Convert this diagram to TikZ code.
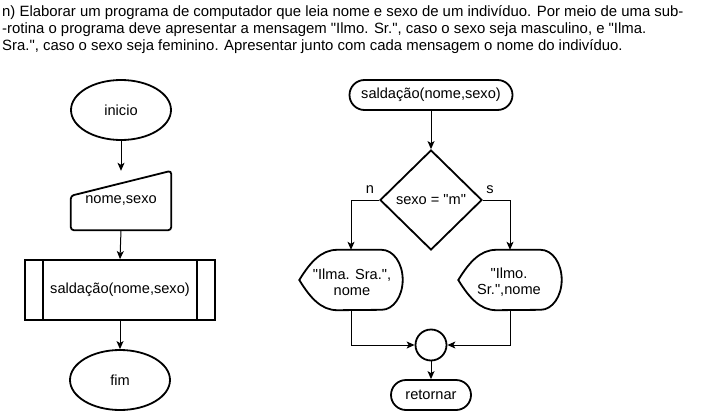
\documentclass[tikz,border=0pt]{standalone}
\usepackage{fontspec}
\setmainfont{Liberation Sans}[Ligatures=TeXOff]
\usetikzlibrary{arrows.meta,shapes.geometric,calc}
\begin{document}
\begin{tikzpicture}[x=1pt,y=-1pt,
  font=\fontsize{14.6}{16}\selectfont,
  shp/.style={draw=black, line width=1.8pt},
  conn/.style={draw=black, line width=1pt, -{Stealth[length=8pt,width=7pt,inset=2pt]}},
  plain/.style={draw=black, line width=1pt},
  ell/.style={ellipse, shp, minimum width=100pt, minimum height=60pt, inner sep=0pt},
  term/.style={shp, rounded corners=15pt, minimum height=30pt, inner sep=2pt},
  txt/.style={inner sep=0pt, align=center}
]
\useasboundingbox (0,0) rectangle (701,412);

% title
\node[anchor=north west, align=left, inner sep=0pt, font=\fontsize{14.9}{17}\selectfont] (title) at (2,5)
 {n) Elaborar um programa de computador que leia nome e sexo de um indivíduo. Por meio de uma sub-\\
  -rotina o programa deve apresentar a mensagem "Ilmo. Sr.", caso o sexo seja masculino, e "Ilma.\\
  Sra.", caso o sexo seja feminino. Apresentar junto com cada mensagem o nome do indivíduo.};

% left flowchart
\node[ell] (ini) at (121,110) {inicio};
\node[txt, minimum width=100pt, minimum height=59pt] (inp) at (121,200.5) {nome,sexo};
\draw[shp, rounded corners=3pt] (inp.south west) -- ($(inp.north west)+(0,25)$) -- (inp.north east) -- (inp.south east) -- cycle;
\node[shp, minimum width=190pt, minimum height=60pt, inner sep=0pt] (sub) at (120,290) {saldação(nome,sexo)};
\draw[shp] ($(sub.north west)+(19,0)$) -- ($(sub.south west)+(19,0)$);
\draw[shp] ($(sub.north east)+(-19,0)$) -- ($(sub.south east)+(-19,0)$);
\node[ell] (fim) at (120,380) {fim};

\draw[conn] (ini.south) -- (inp.north);
\draw[conn] (inp.south) -- (sub.north);
\draw[conn] (sub.south) -- (fim.north);

% right flowchart
\node[term, minimum width=163pt] (t1) at (431,95) {saldação(nome,sexo)};
\node[diamond, shp, minimum width=102pt, minimum height=100pt, inner sep=0pt] (dec) at (431,200) {};
\node[txt] (dect) at (dec.center) {sexo = "m"};

\node[txt, minimum width=103pt, minimum height=60pt] (d1) at (351,280) {};
\node[txt] (d1t) at (352,282) {"Ilma. Sra.",\\nome};
\node[txt, minimum width=103pt, minimum height=60pt] (d2) at (510,280) {};
\node[txt] (d2t) at (509,282) {"Ilmo.\\Sr.",nome};
\foreach \d in {d1,d2}{
  \draw[shp] (\d.west) .. controls ($(\d.west)+(11,-18)$) and ($(\d.north west)+(22,0)$) .. ($(\d.north west)+(38,0)$)
    -- ($(\d.north east)+(-21,0)$) arc[start angle=90, end angle=-90, x radius=21pt, y radius=30pt]
    -- ($(\d.south west)+(38,0)$) .. controls ($(\d.south west)+(22,0)$) and ($(\d.west)+(11,18)$) .. (\d.west) -- cycle;
}

\node[circle, shp, minimum size=31pt, inner sep=0pt] (circ) at (431,345) {};
\node[term, minimum width=80pt] (ret) at (431,395) {retornar};

\node[inner sep=0pt] (ln) at (370,190) {n};
\node[inner sep=0pt] (ls) at (490,190) {s};

\draw[conn] (t1.south) -- (dec.north);
\draw[conn] (dec.west) -| (d1.north);
\draw[conn] (dec.east) -| (d2.north);
\draw[conn] (d1.south) |- (circ.west);
\draw[conn] (d2.south) |- (circ.east);
\draw[conn] (circ.south) -- (ret.north);
\end{tikzpicture}
\end{document}
